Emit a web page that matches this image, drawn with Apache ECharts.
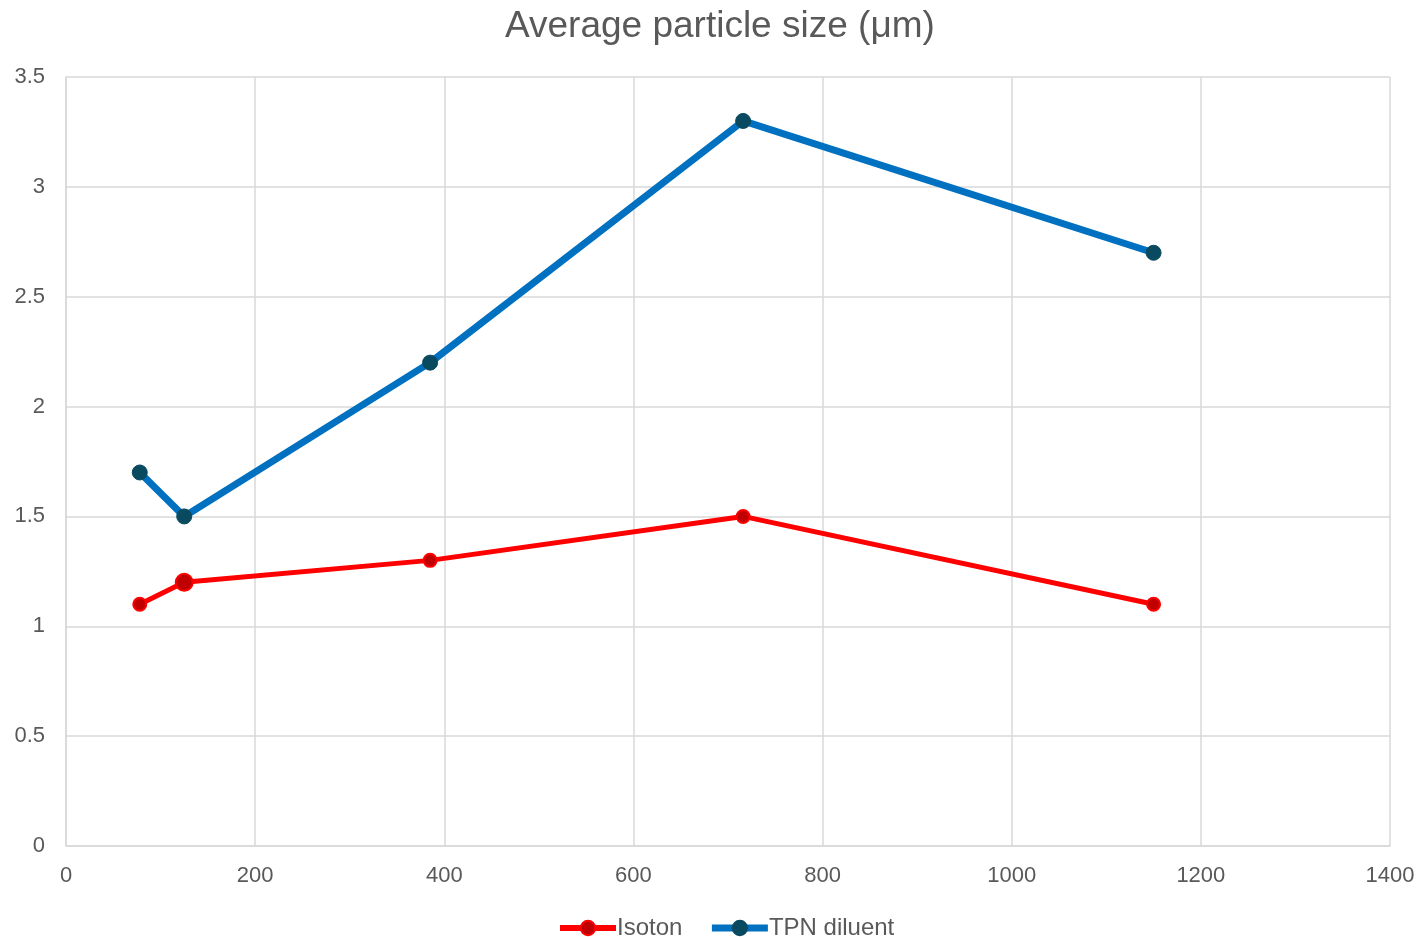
<!DOCTYPE html>
<html>
<head>
<meta charset="utf-8">
<script src="https://cdn.jsdelivr.net/npm/echarts@6/dist/echarts.min.js"></script>
<style>
  html, body { margin: 0; padding: 0; background: #fff; }
  #chart { width: 1424px; height: 937px; }
</style>
</head>
<body>
<div id="chart"></div>
<script>
// x positions (shared by both series)
const xValues = [78, 125, 385, 716, 1150];
const isotonValues = [1.1, 1.2, 1.3, 1.5, 1.1];
const tpnValues = [1.7, 1.5, 2.2, 3.3, 2.7];
const seriesNames = ['Isoton', 'TPN diluent'];

const toPairs = (ys) => xValues.map((x, i) => [x, ys[i]]);

const chart = echarts.init(document.getElementById('chart'), null, { renderer: 'canvas' });

const textColor = '#595959';
const gridColor = '#d9d9d9';
const font = 'Liberation Sans';

const option = {
  backgroundColor: '#fff',
  animation: false,
  title: {
    text: 'Average particle size (μm)',
    left: 500,
    top: 3,
    textStyle: { fontFamily: font, fontSize: 37, fontWeight: 'normal', color: textColor }
  },
  legend: {
    top: 916,
    left: 557,
    padding: 0,
    itemWidth: 56,
    itemHeight: 18,
    itemGap: 26,
    textStyle: { fontFamily: font, fontSize: 24, color: textColor, padding: [0, 0, 0, -4] },
    data: [
      { name: seriesNames[0], lineStyle: { width: 6 } },
      { name: seriesNames[1], lineStyle: { width: 7 } }
    ]
  },
  grid: { left: 66, right: 34, top: 77, bottom: 91 },
  xAxis: {
    type: 'value',
    min: 0,
    max: 1400,
    interval: 200,
    axisLine: { show: true, lineStyle: { color: gridColor, width: 1.5 } },
    axisTick: { show: false },
    splitLine: { show: true, lineStyle: { color: gridColor, width: 1.5 } },
    axisLabel: {
      fontFamily: font, fontSize: 22, color: textColor, margin: 19,
      formatter: (v) => String(v)
    }
  },
  yAxis: {
    type: 'value',
    min: 0,
    max: 3.5,
    interval: 0.5,
    axisLine: { show: true, lineStyle: { color: gridColor, width: 1.5 } },
    axisTick: { show: false },
    splitLine: { show: true, lineStyle: { color: gridColor, width: 1.5 } },
    axisLabel: { fontFamily: font, fontSize: 22, color: textColor, margin: 21 }
  },
  series: [
    {
      name: seriesNames[0],
      type: 'line',
      data: toPairs(isotonValues),
      symbol: 'circle',
      symbolSize: (v, p) => (p.dataIndex === 1 ? 17 : 13),
      lineStyle: { color: '#ff0000', width: 5 },
      itemStyle: { color: '#c00000', borderColor: '#ff0000', borderWidth: 2 }
    },
    {
      name: seriesNames[1],
      type: 'line',
      data: toPairs(tpnValues),
      symbol: 'circle',
      symbolSize: 15,
      lineStyle: { color: '#0070c0', width: 7 },
      itemStyle: { color: '#0a4a60', borderColor: '#0a4a60', borderWidth: 1 }
    }
  ]
};

chart.setOption(option);
</script>
</body>
</html>
